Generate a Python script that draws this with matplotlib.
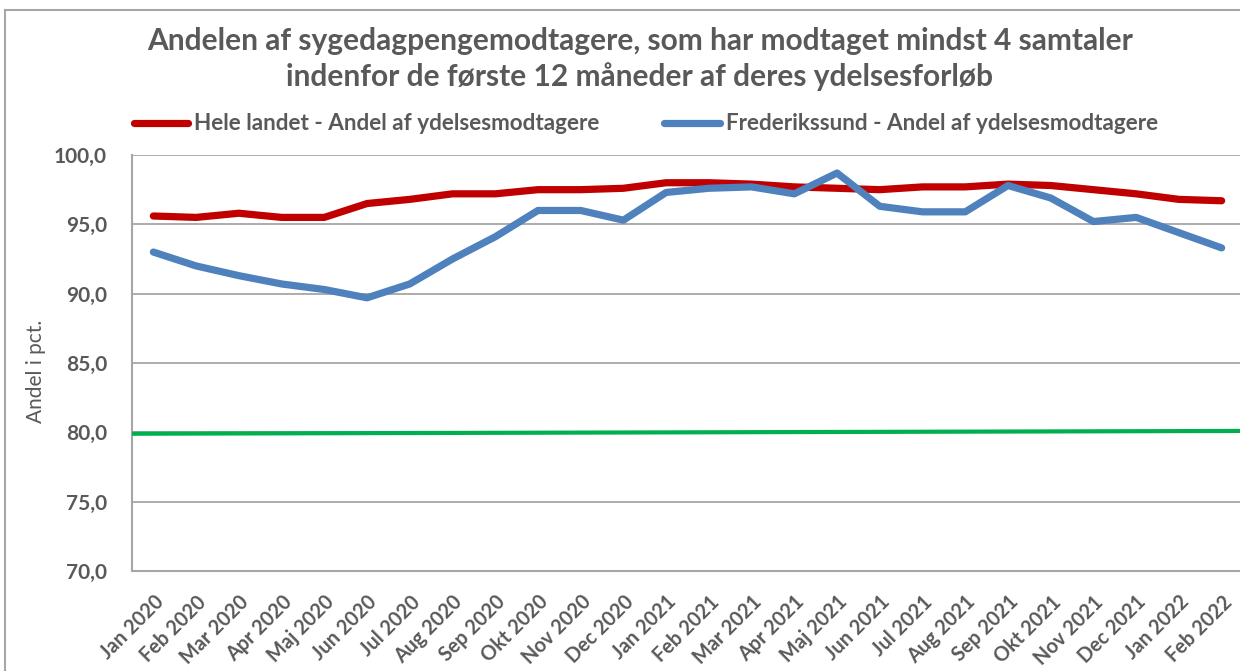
import matplotlib
matplotlib.use("Agg")
import matplotlib.pyplot as plt
from matplotlib.lines import Line2D
from matplotlib.ticker import FuncFormatter, MultipleLocator


MONTHS = [
    "Jan 2020", "Feb 2020", "Mar 2020", "Apr 2020", "Maj 2020", "Jun 2020",
    "Jul 2020", "Aug 2020", "Sep 2020", "Okt 2020", "Nov 2020", "Dec 2020",
    "Jan 2021", "Feb 2021", "Mar 2021", "Apr 2021", "Maj 2021", "Jun 2021",
    "Jul 2021", "Aug 2021", "Sep 2021", "Okt 2021", "Nov 2021", "Dec 2021",
    "Jan 2022", "Feb 2022",
]

HELE_LANDET = [
    95.6, 95.5, 95.8, 95.5, 95.5, 96.5, 96.8, 97.2, 97.2, 97.5, 97.5, 97.6,
    98.0, 98.0, 97.9, 97.7, 97.6, 97.5, 97.7, 97.7, 97.9, 97.8, 97.5, 97.2,
    96.8, 96.7,
]

FREDERIKSSUND = [
    93.0, 92.0, 91.3, 90.7, 90.3, 89.7, 90.7, 92.5, 94.1, 96.0, 96.0, 95.3,
    97.3, 97.6, 97.7, 97.2, 98.7, 96.3, 95.9, 95.9, 97.8, 96.9, 95.2, 95.5,
    94.4, 93.3,
]

# målsætning: 80 pct. (tegnes hen over hele plotområdet)
TARGET = [79.9, 80.1]

TITLE = ("Andelen af sygedagpengemodtagere, som har modtaget mindst 4 samtaler\n"
         "indenfor de første 12 måneder af deres ydelsesforløb")
LABEL_HELE = "Hele landet - Andel af ydelsesmodtagere"
LABEL_FRED = "Frederikssund - Andel af ydelsesmodtagere"

RED = "#C00000"
BLUE = "#4F81BD"
GREEN = "#00B050"
TEXT = "#595959"
GRID = "#A6A6A6"

W, H = 1240, 671

plt.rcParams["font.family"] = ["Lato", "DejaVu Sans"]

fig = plt.figure(figsize=(W / 100, H / 100), dpi=100)
ax = fig.add_axes([132 / W, 1 - 571 / H, (1243 - 132) / W, (571 - 155) / H])

x = list(range(len(MONTHS)))
ax.set_xlim(-0.5, len(MONTHS) - 0.5)
ax.set_ylim(70, 100)

xmin, xmax = ax.get_xlim()
ax.plot([xmin, xmax], TARGET, color=GREEN, lw=3, solid_capstyle="butt", zorder=3)
ax.plot(x, HELE_LANDET, color=RED, lw=5.2, solid_capstyle="round", zorder=4)
ax.plot(x, FREDERIKSSUND, color=BLUE, lw=5.2, solid_capstyle="round", zorder=5)

ax.yaxis.set_major_locator(MultipleLocator(5))
ax.yaxis.set_major_formatter(FuncFormatter(lambda v, p: f"{v:.1f}".replace(".", ",")))
ax.grid(axis="y", color=GRID, lw=1.3)
ax.set_axisbelow(True)

ax.set_xticks(x)
ax.set_xticklabels(MONTHS, rotation=45, ha="right", rotation_mode="anchor",
                   fontweight="bold", fontsize=14.3, color=TEXT)
ax.tick_params(axis="x", length=0, pad=15)
ax.tick_params(axis="y", length=0, pad=18, labelsize=15, labelcolor=TEXT)
for lbl in ax.get_yticklabels():
    lbl.set_fontweight("bold")

for side in ["top", "right"]:
    ax.spines[side].set_visible(False)
for side in ["left", "bottom"]:
    ax.spines[side].set_color(GRID)
    ax.spines[side].set_linewidth(1.5)

ax.set_ylabel("Andel i pct.", fontsize=15, color=TEXT)
ax.yaxis.set_label_coords(-0.077, 0.48)

fig.text(640 / W, 1 - 59 / H, TITLE, ha="center", va="center", fontsize=21.5,
         fontweight="bold", color=TEXT, linespacing=1.3)

# legende
fig.add_artist(Line2D([134 / W, 188 / W], [1 - 123 / H] * 2, color=RED, lw=5.2,
                      solid_capstyle="round", transform=fig.transFigure))
fig.text(194 / W, 1 - 123 / H, LABEL_HELE, ha="left", va="center", fontsize=16.2,
         fontweight="bold", color=TEXT)
fig.add_artist(Line2D([664 / W, 720 / W], [1 - 123 / H] * 2, color=BLUE, lw=5.2,
                      solid_capstyle="round", transform=fig.transFigure))
fig.text(726 / W, 1 - 123 / H, LABEL_FRED, ha="left", va="center", fontsize=16.2,
         fontweight="bold", color=TEXT)

# ydre ramme
fig.add_artist(Line2D([5 / W, 1.0], [1 - 10 / H] * 2, color=GRID, lw=1.5,
                      transform=fig.transFigure))
fig.add_artist(Line2D([5 / W] * 2, [0.0, 1 - 10 / H], color=GRID, lw=1.5,
                      transform=fig.transFigure))

fig.savefig("out.png", dpi=100)
